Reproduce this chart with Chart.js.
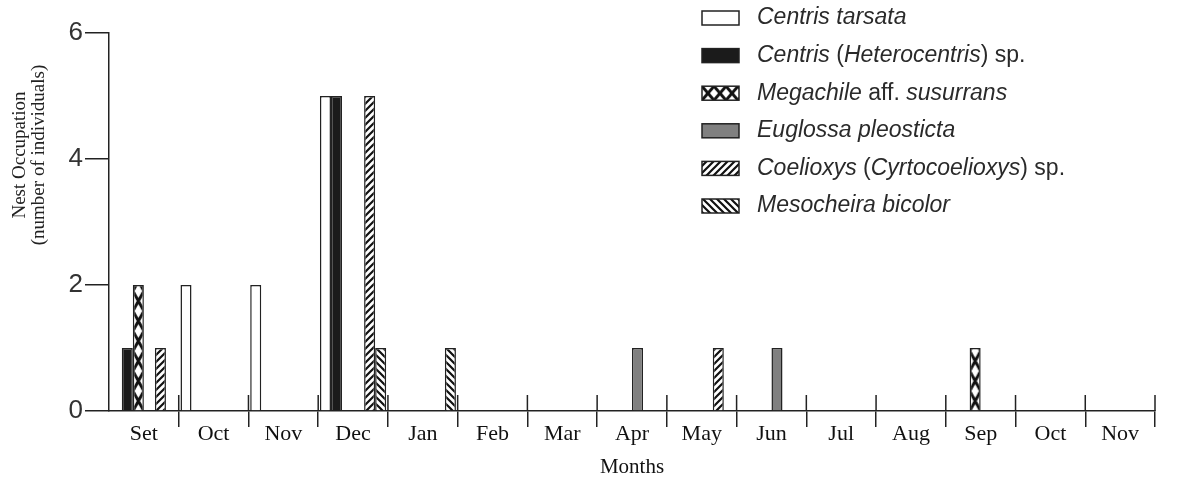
<!DOCTYPE html>
<html lang="en">
<head>
    <meta charset="UTF-8">
    <title>Nest Occupation by Month</title>
    <script src="https://cdn.jsdelivr.net/npm/chart.js"></script>
    <style>
        html, body { margin: 0; padding: 0; background: #fff; }
        #wrap { width: 1177px; height: 481px; }
    </style>
</head>
<body>
    <div id="wrap">
        <canvas id="nestChart" width="1177" height="481"></canvas>
    </div>

    <script>
        // Months of the sampling (Set = Setembro, first month)
        var months = ['Set', 'Oct', 'Nov', 'Dec', 'Jan', 'Feb', 'Mar', 'Apr', 'May', 'Jun', 'Jul', 'Aug', 'Sep', 'Oct', 'Nov'];

        // Individuals per species per month
        var centrisTarsata = [0, 2, 2, 5, 0, 0, 0, 0, 0, 0, 0, 0, 0, 0, 0];
        var heterocentris  = [1, 0, 0, 5, 0, 0, 0, 0, 0, 0, 0, 0, 0, 0, 0];
        var megachile      = [2, 0, 0, 0, 0, 0, 0, 0, 0, 0, 0, 0, 1, 0, 0];
        var euglossa       = [0, 0, 0, 0, 0, 0, 0, 1, 0, 1, 0, 0, 0, 0, 0];
        var coelioxys      = [1, 0, 0, 5, 0, 0, 0, 0, 1, 0, 0, 0, 0, 0, 0];
        var mesocheira     = [0, 0, 0, 1, 1, 0, 0, 0, 0, 0, 0, 0, 0, 0, 0];

        var yTicks = [0, 2, 4, 6];

        // legend text pieces: [text, italic?]
        var legendLabels = [
            [['Centris tarsata', true]],
            [['Centris ', true], ['(', false], ['Heterocentris', true], [') sp.', false]],
            [['Megachile', true], [' aff. ', false], ['susurrans', true]],
            [['Euglossa pleosticta', true]],
            [['Coelioxys ', true], ['(', false], ['Cyrtocoelioxys', true], [') sp.', false]],
            [['Mesocheira bicolor', true]]
        ];

        var INK = '#222';
        var CAT_PCT = 0.95;
        var pctx = document.getElementById('nestChart').getContext('2d');

        // --- hatch tiles ---
        function stripeTile(dir) {
            var s = 7;
            var c = document.createElement('canvas');
            c.width = s; c.height = s;
            var g = c.getContext('2d');
            g.fillStyle = '#fff';
            g.fillRect(0, 0, s, s);
            g.strokeStyle = '#111';
            g.lineWidth = 2.2;
            g.beginPath();
            if (dir === '/') {
                g.moveTo(0, s); g.lineTo(s, 0);
                g.moveTo(-1, 1); g.lineTo(1, -1);
                g.moveTo(s - 1, s + 1); g.lineTo(s + 1, s - 1);
            } else {
                g.moveTo(0, 0); g.lineTo(s, s);
                g.moveTo(-1, s - 1); g.lineTo(1, s + 1);
                g.moveTo(s - 1, -1); g.lineTo(s + 1, 1);
            }
            g.stroke();
            return c;
        }

        function crossTile(w, h) {
            var c = document.createElement('canvas');
            c.width = Math.round(w); c.height = Math.round(h);
            var g = c.getContext('2d');
            g.fillStyle = '#fff';
            g.fillRect(0, 0, c.width, c.height);
            g.strokeStyle = '#111';
            g.lineWidth = 3;
            g.beginPath();
            g.moveTo(0, 0); g.lineTo(c.width, c.height);
            g.moveTo(c.width, 0); g.lineTo(0, c.height);
            g.stroke();
            return c;
        }

        var slashTile = stripeTile('/');
        var backTile = stripeTile('\\');
        var xTile = crossTile(11, 20);
        var xTileLegend = crossTile(12, 14);

        var slashPattern = pctx.createPattern(slashTile, 'repeat');
        var backPattern = pctx.createPattern(backTile, 'repeat');

        // keep the X chain lined up with each Megachile bar
        function megachileFill(ctx) {
            var xs = ctx.chart.scales && ctx.chart.scales.x;
            var p = pctx.createPattern(xTile, 'repeat');
            if (!xs || ctx.dataIndex === undefined) return p;
            var cw = xs.width / months.length;
            var bw = cw * CAT_PCT / 6;
            var left = xs.getPixelForValue(ctx.dataIndex) - cw * CAT_PCT / 2 + 2 * bw;
            p.setTransform(new DOMMatrix().translate(left, xs.top));
            return p;
        }

        // --- plugins ---
        // upper half of the month separators (crosses the axis)
        var monthTicks = {
            id: 'monthTicks',
            afterDraw: function (chart) {
                var xs = chart.scales.x;
                var n = months.length;
                var g = chart.ctx;
                g.save();
                g.strokeStyle = INK;
                g.lineWidth = 1.5;
                g.beginPath();
                for (var i = 1; i <= n; i++) {
                    var x = xs.left + i * xs.width / n;
                    g.moveTo(x, xs.top - 16);
                    g.lineTo(x, xs.top);
                }
                g.stroke();
                g.restore();
            }
        };

        // y title, placed a bit above the middle like the original
        var yTitle = {
            id: 'yTitle',
            afterDraw: function (chart) {
                var g = chart.ctx;
                g.save();
                g.translate(0, 155);
                g.rotate(-Math.PI / 2);
                g.fillStyle = INK;
                g.font = '19px "Liberation Serif", "Times New Roman", serif';
                g.textAlign = 'center';
                g.textBaseline = 'middle';
                g.fillText('Nest Occupation', 0, 20);
                g.fillText('(number of individuals)', 0, 39);
                g.restore();
            }
        };

        // legend with mixed italic / upright text
        var speciesLegend = {
            id: 'speciesLegend',
            afterDraw: function (chart) {
                var g = chart.ctx;
                var fills = ['#fff', '#1b1b1b', null, '#808080', slashPattern, backPattern];
                g.save();
                for (var i = 0; i < legendLabels.length; i++) {
                    var cy = 18 + i * 37.6;
                    var bx = 702, by = cy - 7;
                    var f = fills[i];
                    if (i === 2) {
                        f = pctx.createPattern(xTileLegend, 'repeat');
                        f.setTransform(new DOMMatrix().translate(bx, by));
                    }
                    g.fillStyle = f;
                    g.fillRect(bx, by, 37, 14);
                    g.strokeStyle = INK;
                    g.lineWidth = 1.5;
                    g.strokeRect(bx, by, 37, 14);

                    var tx = 757;
                    g.fillStyle = '#2a2a2a';
                    g.textBaseline = 'middle';
                    g.textAlign = 'left';
                    legendLabels[i].forEach(function (part) {
                        g.font = (part[1] ? 'italic ' : '') + '23px "Liberation Sans", Arial, sans-serif';
                        g.fillText(part[0], tx, cy);
                        tx += g.measureText(part[0]).width;
                    });
                }
                g.restore();
            }
        };

        var datasetsCfg = [
            { label: 'Centris tarsata', data: centrisTarsata, backgroundColor: '#fff' },
            { label: 'Centris (Heterocentris) sp.', data: heterocentris, backgroundColor: '#1b1b1b' },
            { label: 'Megachile aff. susurrans', data: megachile, backgroundColor: megachileFill },
            { label: 'Euglossa pleosticta', data: euglossa, backgroundColor: '#808080' },
            { label: 'Coelioxys (Cyrtocoelioxys) sp.', data: coelioxys, backgroundColor: slashPattern },
            { label: 'Mesocheira bicolor', data: mesocheira, backgroundColor: backPattern }
        ];

        var nestConfig = {
            type: 'bar',
            data: { labels: months, datasets: datasetsCfg },
            options: {
                responsive: false,
                animation: false,
                devicePixelRatio: 1,
                layout: { padding: { top: 33, right: 22, left: 0, bottom: 0 } },
                datasets: {
                    bar: {
                        categoryPercentage: CAT_PCT,
                        barPercentage: 1,
                        borderColor: INK,
                        borderWidth: 1.5
                    }
                },
                plugins: {
                    legend: { display: false },
                    tooltip: { enabled: false }
                },
                scales: {
                    x: {
                        offset: true,
                        afterFit: function (s) { s.height = 70; },
                        grid: {
                            offset: true,
                            drawOnChartArea: false,
                            tickLength: 16,
                            lineWidth: 1.5,
                            color: function (c) { return c.index === 0 ? 'rgba(0,0,0,0)' : INK; }
                        },
                        border: { color: INK, width: 1.5 },
                        ticks: {
                            autoSkip: false,
                            maxRotation: 0,
                            padding: -6,
                            color: '#111',
                            font: { family: '"Liberation Serif", "Times New Roman", serif', size: 22 }
                        },
                        title: {
                            display: true,
                            text: 'Months',
                            color: '#111',
                            padding: { top: 0, bottom: 1 },
                            font: { family: '"Liberation Serif", "Times New Roman", serif', size: 21 }
                        }
                    },
                    y: {
                        min: 0,
                        max: 6,
                        afterFit: function (s) { s.width = 109; },
                        afterBuildTicks: function (s) { s.ticks = yTicks.map(function (v) { return { value: v }; }); },
                        grid: {
                            drawOnChartArea: false,
                            tickLength: 24,
                            lineWidth: 1.5,
                            color: INK
                        },
                        border: { color: INK, width: 1.5 },
                        ticks: {
                            padding: 2,
                            color: '#333',
                            font: { family: '"Liberation Sans", Arial, sans-serif', size: 26 }
                        }
                    }
                }
            },
            plugins: [monthTicks, yTitle, speciesLegend]
        };

        var nestChart = new Chart(document.getElementById('nestChart'), nestConfig);
    </script>
</body>
</html>
